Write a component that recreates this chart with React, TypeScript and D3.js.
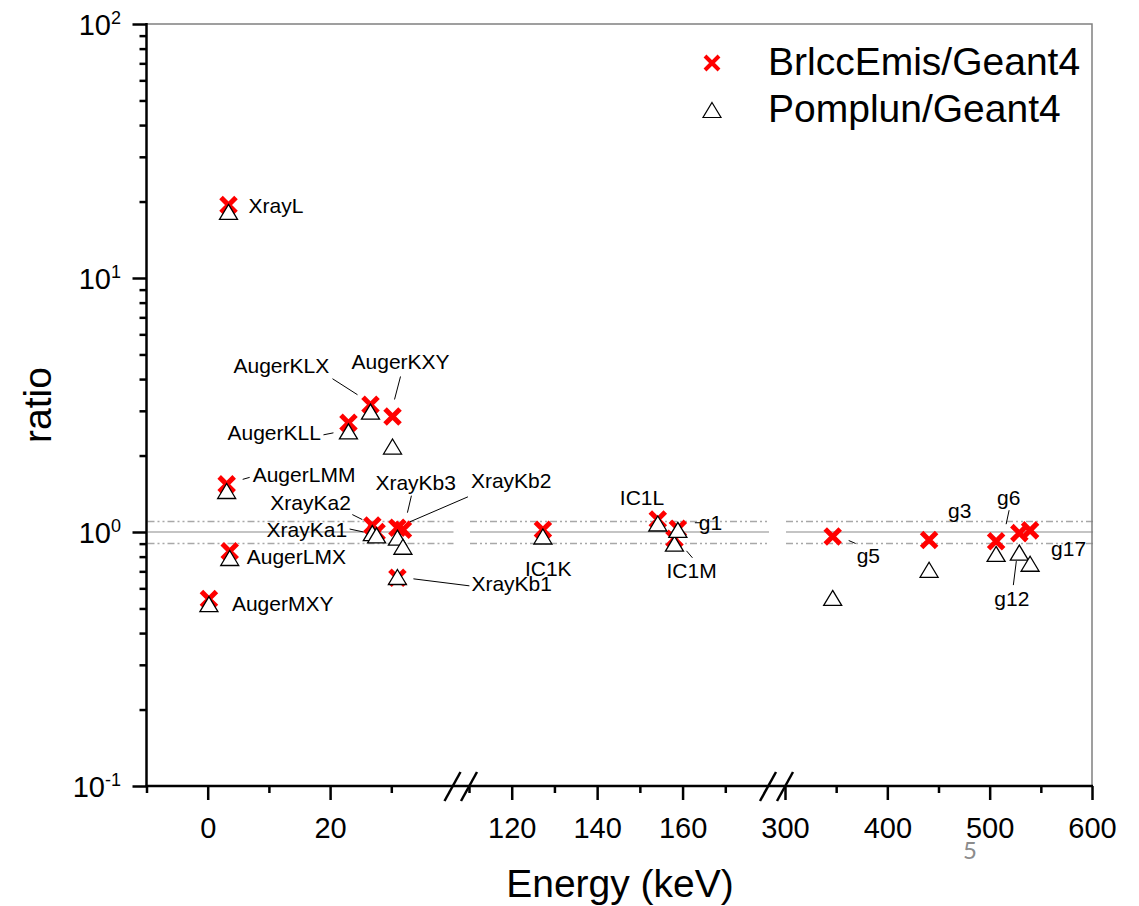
import * as d3 from "d3";
import React, { useEffect, useRef } from "react";

// emission lines (I-123) and their ratios
const lineNames = [
  "AugerMXY", "XrayL", "AugerLMM", "AugerLMX", "AugerKLL", "AugerKLX",
  "XrayKa2", "XrayKa1", "AugerKXY", "XrayKb3", "XrayKb1", "XrayKb2",
  "IC1K", "IC1L", "IC1M", "g1", "g5", "g3", "g6", "g12", "g17",
];
const energies = [
  0.2, 3.4, 3.1, 3.6, 23.0, 26.6,
  26.9, 27.6, 30.2, 31.0, 31.0, 31.9,
  127.3, 154.2, 158.1, 158.9, 346.6, 440.8, 506.3, 529.0, 539.5,
];
const brlccRatio = [
  0.545, 19.4, 1.54, 0.84, 2.69, 3.17,
  1.06, 1.0, 2.85, 1.04, 0.66, 1.02,
  1.02, 1.12, 0.94, 1.03, 0.96, 0.93, 0.92, 0.99, 1.015,
];
const pomplunRatio = [
  0.52, 18.2, 1.45, 0.79, 2.49, 2.98,
  0.99, 0.97, 2.17, 0.95, 0.665, 0.875,
  0.96, 1.08, 0.9, 1.02, 0.55, 0.71, 0.82, 0.83, 0.75,
];

// broken x axis: three pieces
const segDomains = [[-10, 40], [110, 180], [300, 600]];
const segMajor = [[0, 20], [120, 140, 160], [300, 400, 500, 600]];
const segMinor = [[-10, 10, 30], [110, 130, 150, 170], [350, 450, 550]];
const refLines = [0.9, 1.0, 1.1];
const legendLabels = ["BrlccEmis/Geant4", "Pomplun/Geant4"];

// label placement, pixels relative to the red marker: text start, baseline, optional leader
const labelLayout = {
  XrayL: { dx: 20, dy: 8 },
  AugerKLX: { dx: -137, dy: -32, lead: [-38, -26, -13, -10] },
  AugerKXY: { dx: -41, dy: -47, lead: [8, -40, 2, -17] },
  AugerKLL: { dx: -121, dy: 17, lead: [-25, 12, -15, 10] },
  AugerLMM: { dx: 26, dy: -2, lead: [16, -5, 23, -7] },
  XrayKa2: { dx: -102, dy: -16, lead: [-20, -11, -10, -6] },
  XrayKa1: { dx: -110, dy: 5, lead: [-27, -3, -13, 0] },
  XrayKb3: { dx: -22, dy: -38, lead: [14, -32, 10, -15] },
  XrayKb2: { dx: 68, dy: -42, lead: [65, -33, 7, -8] },
  XrayKb1: { dx: 74, dy: 13, lead: [16, 1, 72, 8] },
  AugerLMX: { dx: 17, dy: 13 },
  AugerMXY: { dx: 23, dy: 12 },
  IC1K: { dx: -18, dy: 46 },
  IC1L: { dx: -38, dy: -14 },
  IC1M: { dx: -8, dy: 39, lead: [12, 12, 18, 19] },
  g1: { dx: 21, dy: 1, lead: [17, -6, 24, -6] },
  g5: { dx: 24, dy: 26, lead: [16, 4, 23, 7] },
  g3: { dx: 19, dy: -22 },
  g6: { dx: 1, dy: -36, lead: [13, -31, 10, -17] },
  g12: { dx: -25, dy: 73, lead: [-6, 52, -3, 28] },
  g17: { dx: 21, dy: 26 },
};

const FONT = "'Liberation Sans', Arial, sans-serif";

export default function App() {
  const ref = useRef(null);

  useEffect(() => {
    const width = 1139;
    const height = 906;
    const left = 146.5, right = 1092, top = 24, bottom = 786;
    const segRanges = [[146.5, 452.5], [469, 768], [785, 1092]];

    const root = d3.select(ref.current);
    root.selectAll("*").remove();
    const svg = root
      .append("svg")
      .attr("width", width)
      .attr("height", height)
      .style("position", "absolute")
      .style("left", "0px")
      .style("top", "0px")
      .style("background", "#fff");

    const yScale = d3.scaleLog().domain([0.1, 100]).range([bottom, top]);
    const xScales = segDomains.map((d, i) => d3.scaleLinear().domain(d).range(segRanges[i]));
    const xPos = (e) => {
      const i = segDomains.findIndex((d) => e >= d[0] && e <= d[1]);
      return xScales[i](e);
    };

    // reference lines at 0.9 / 1.0 / 1.1
    refLines.forEach((v) => {
      segRanges.forEach((r, i) => {
        svg
          .append("line")
          .attr("x1", i === 0 ? left + 1 : r[0] + 1)
          .attr("x2", r[1] + 1)
          .attr("y1", yScale(v))
          .attr("y2", yScale(v))
          .attr("stroke", v === 1 ? "#8a8a8a" : "#a8a8a8")
          .attr("stroke-width", v === 1 ? 1.2 : 1.5)
          .attr("stroke-dasharray", v === 1 ? null : "7,3,2,3,2,3");
      });
    });

    // frame top/right in gray
    svg.append("path")
      .attr("d", `M${left},${top}H${right}V${bottom}`)
      .attr("fill", "none")
      .attr("stroke", "#808080")
      .attr("stroke-width", 1.5);

    // y axis
    const yMajor = [0.1, 1, 10, 100];
    const yMinor = [];
    [0.1, 1, 10].forEach((b) => d3.range(2, 10).forEach((k) => yMinor.push(b * k)));
    const yAxisG = svg.append("g").attr("transform", `translate(${left},0)`);
    yAxisG.append("g").call(d3.axisLeft(yScale).tickValues(yMajor).tickSize(14).tickFormat(() => ""));
    yAxisG.append("g").call(d3.axisLeft(yScale).tickValues(yMinor).tickSize(7).tickFormat(() => ""));
    yAxisG.selectAll(".domain").remove();
    yAxisG.selectAll("line").attr("stroke", "#000").attr("stroke-width", 2.5);
    yAxisG.append("line").attr("x1", 0).attr("x2", 0).attr("y1", top - 1).attr("y2", bottom + 1)
      .attr("stroke", "#000").attr("stroke-width", 2.5);

    yMajor.forEach((v) => {
      const t = svg.append("text")
        .attr("x", 121)
        .attr("y", yScale(v) + 11)
        .attr("text-anchor", "end")
        .attr("font-family", FONT)
        .attr("font-size", 29)
        .attr("fill", "#000");
      t.append("tspan").text("10");
      t.append("tspan").attr("font-size", 18).attr("dy", -11).text(String(Math.round(Math.log10(v))));
    });

    // x axis, broken
    const xAxisG = svg.append("g").attr("transform", `translate(0,${bottom})`);
    xScales.forEach((xs, i) => {
      const g = xAxisG.append("g");
      g.append("g").call(
        d3.axisBottom(xs).tickValues(segMajor[i]).tickSize(14).tickPadding(17).tickFormat(d3.format("d"))
      );
      g.append("g").call(d3.axisBottom(xs).tickValues(segMinor[i]).tickSize(7).tickFormat(() => ""));
    });
    xAxisG.selectAll(".domain").remove();
    xAxisG.selectAll("line").attr("stroke", "#000").attr("stroke-width", 2.5);
    xAxisG.selectAll("text").attr("font-family", FONT).attr("font-size", 29).attr("fill", "#000");
    xAxisG.append("line").attr("x1", left - 1).attr("x2", right + 1).attr("y1", 0).attr("y2", 0)
      .attr("stroke", "#000").attr("stroke-width", 2.5);

    // break marks
    [segRanges[0][1], segRanges[1][0], segRanges[1][1], segRanges[2][0]].forEach((bx) => {
      xAxisG.append("line")
        .attr("x1", bx - 8).attr("y1", 15)
        .attr("x2", bx + 8).attr("y2", -14)
        .attr("stroke", "#000").attr("stroke-width", 2.5);
    });

    // axis titles
    svg.append("text")
      .attr("x", 620).attr("y", 897)
      .attr("text-anchor", "middle")
      .attr("font-family", FONT).attr("font-size", 39)
      .text("Energy (keV)");
    svg.append("text")
      .attr("transform", "translate(51,405) rotate(-90)")
      .attr("text-anchor", "middle")
      .attr("font-family", FONT).attr("font-size", 39)
      .text("ratio");

    const crossPath = (s) => `M${-s},${-s}L${s},${s}M${-s},${s}L${s},${-s}`;
    const triPath = (w, h) => `M0,${-h / 2}L${w / 2},${h / 2}L${-w / 2},${h / 2}Z`;

    // leader lines and labels
    const labG = svg.append("g");
    lineNames.forEach((name, i) => {
      const px = xPos(energies[i]);
      const py = yScale(brlccRatio[i]);
      const lay = labelLayout[name];
      if (!lay) return;
      if (lay.lead) {
        labG.append("line")
          .attr("x1", px + lay.lead[0]).attr("y1", py + lay.lead[1])
          .attr("x2", px + lay.lead[2]).attr("y2", py + lay.lead[3])
          .attr("stroke", "#000").attr("stroke-width", 1);
      }
      labG.append("text")
        .attr("x", px + lay.dx)
        .attr("y", py + lay.dy)
        .attr("font-family", FONT)
        .attr("font-size", 21)
        .attr("fill", "#000")
        .text(name);
    });

    // red crosses
    svg.append("g")
      .selectAll("path")
      .data(lineNames.map((n, i) => i))
      .enter()
      .append("path")
      .attr("transform", (i) => `translate(${xPos(energies[i])},${yScale(brlccRatio[i])})`)
      .attr("d", crossPath(7.5))
      .attr("stroke", "#ff0000")
      .attr("stroke-width", 5)
      .attr("fill", "none");

    // open triangles
    svg.append("g")
      .selectAll("path")
      .data(lineNames.map((n, i) => i))
      .enter()
      .append("path")
      .attr("transform", (i) => `translate(${xPos(energies[i])},${yScale(pomplunRatio[i])})`)
      .attr("d", triPath(18, 15))
      .attr("stroke", "#000")
      .attr("stroke-width", 1.3)
      .attr("fill", "#fff");

    // legend
    const leg = svg.append("g");
    leg.append("path").attr("transform", "translate(712,63)").attr("d", crossPath(7))
      .attr("stroke", "#ff0000").attr("stroke-width", 4).attr("fill", "none");
    leg.append("path").attr("transform", "translate(712,110)").attr("d", triPath(18, 15))
      .attr("stroke", "#000").attr("stroke-width", 1.2).attr("fill", "#fff");
    legendLabels.forEach((t, i) => {
      leg.append("text")
        .attr("x", 768).attr("y", 75 + i * 46.5)
        .attr("font-family", FONT).attr("font-size", 39)
        .text(t);
    });

    // slide page number
    svg.append("text")
      .attr("x", 970).attr("y", 859)
      .attr("text-anchor", "middle")
      .attr("font-family", "Lato, 'Open Sans', sans-serif")
      .attr("font-size", 24)
      .attr("fill", "#8c8c8c")
      .text("5");
  }, []);

  return <div ref={ref} style={{ width: 1139, height: 906 }}></div>;
}
